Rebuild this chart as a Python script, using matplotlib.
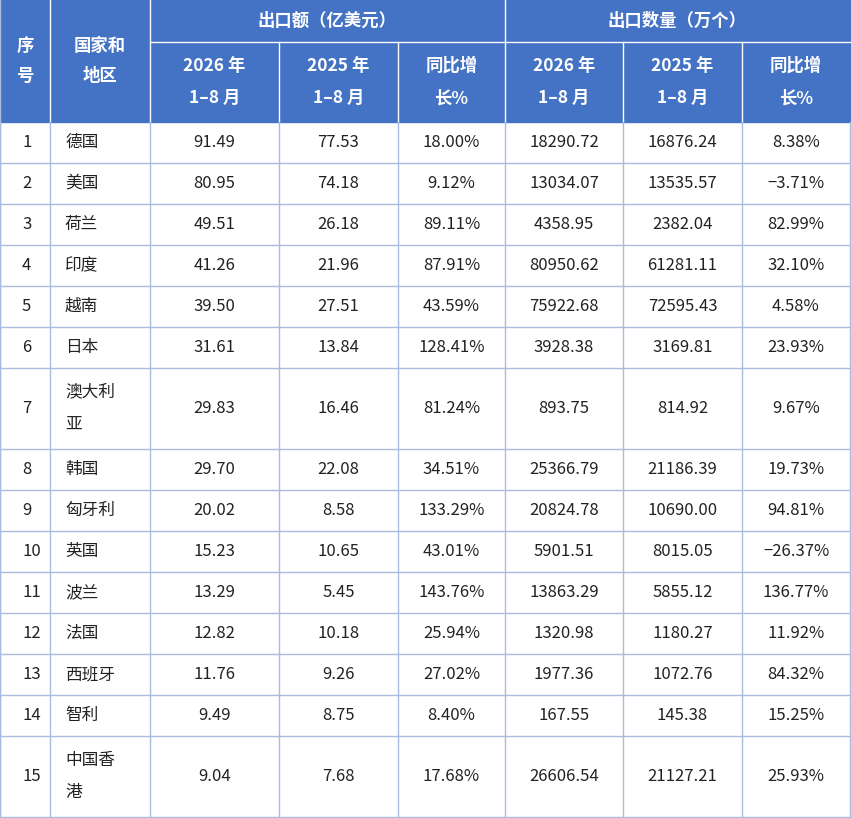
import matplotlib.pyplot as plt
from matplotlib.patches import Rectangle

plt.rcParams['font.family'] = ['Noto Sans CJK SC', 'DejaVu Sans']

ranks = [str(i) for i in range(1, 16)]
regions = ["德国", "美国", "荷兰", "印度", "越南", "日本", "澳大利\n亚", "韩国", "匈牙利",
           "英国", "波兰", "法国", "西班牙", "智利", "中国香\n港"]
val_2026 = ["91.49", "80.95", "49.51", "41.26", "39.50", "31.61", "29.83", "29.70", "20.02",
            "15.23", "13.29", "12.82", "11.76", "9.49", "9.04"]
val_2025 = ["77.53", "74.18", "26.18", "21.96", "27.51", "13.84", "16.46", "22.08", "8.58",
            "10.65", "5.45", "10.18", "9.26", "8.75", "7.68"]
val_yoy = ["18.00%", "9.12%", "89.11%", "87.91%", "43.59%", "128.41%", "81.24%", "34.51%",
           "133.29%", "43.01%", "143.76%", "25.94%", "27.02%", "8.40%", "17.68%"]
qty_2026 = ["18290.72", "13034.07", "4358.95", "80950.62", "75922.68", "3928.38", "893.75",
            "25366.79", "20824.78", "5901.51", "13863.29", "1320.98", "1977.36", "167.55", "26606.54"]
qty_2025 = ["16876.24", "13535.57", "2382.04", "61281.11", "72595.43", "3169.81", "814.92",
            "21186.39", "10690.00", "8015.05", "5855.12", "1180.27", "1072.76", "145.38", "21127.21"]
qty_yoy = ["8.38%", "−3.71%", "82.99%", "32.10%", "4.58%", "23.93%", "9.67%", "19.73%",
           "94.81%", "−26.37%", "136.77%", "11.92%", "84.32%", "15.25%", "25.93%"]

cols = [0, 50, 150, 279, 398, 505, 623, 742, 850]
row_h = [41, 41, 41, 41, 41, 41, 81, 41, 41, 41, 41, 41, 41, 41, 81]
head = "#4472C4"
line = "#A9BCE0"

fig = plt.figure(figsize=(8.51, 8.18), dpi=100)
ax = fig.add_axes([0, 0, 1, 1])
ax.set_xlim(0, 851)
ax.set_ylim(818, 0)
ax.axis("off")

# header
ax.add_patch(Rectangle((0, 0), 850, 122, color=head))
hw = dict(color="white", fontsize=12.5, fontweight="bold", ha="center", va="center")
ax.text(25, 61, "序\n号", linespacing=1.9, **hw)
ax.text(100, 61, "国家和\n地区", linespacing=1.9, **hw)
ax.text(327, 21, "出口额（亿美元）", **hw)
ax.text(677, 21, "出口数量（万个）", **hw)
subs = ["2026 年\n1–8 月", "2025 年\n1–8 月", "同比增\n长%"] * 2
for i, s in enumerate(subs):
    ax.text((cols[i + 2] + cols[i + 3]) / 2, 82, s, linespacing=2.0, **hw)
ax.plot([150, 850], [42, 42], color="white", lw=1)
for x in cols[1:-1]:
    y0 = 0 if x in (50, 150, 505) else 42
    ax.plot([x, x], [y0, 122], color="white", lw=1)

# body
y = 122
body = dict(color="#222222", fontsize=12, va="center")
for r in range(15):
    h = row_h[r]
    cy = y + h / 2
    ax.text(22, cy, ranks[r], ha="left", **body)
    ax.text(65, cy, regions[r], ha="left", linespacing=2.2, **body)
    vals = [val_2026[r], val_2025[r], val_yoy[r], qty_2026[r], qty_2025[r], qty_yoy[r]]
    for i, v in enumerate(vals):
        ax.text((cols[i + 2] + cols[i + 3]) / 2, cy, v, ha="center", **body)
    y += h
    ax.plot([0, 850], [y, y], color=line, lw=1)
for x in cols:
    ax.plot([x, x], [122, y], color=line, lw=1)
ax.plot([0, 0], [0, y], color=line, lw=1)

fig.savefig("out.png", dpi=100)
